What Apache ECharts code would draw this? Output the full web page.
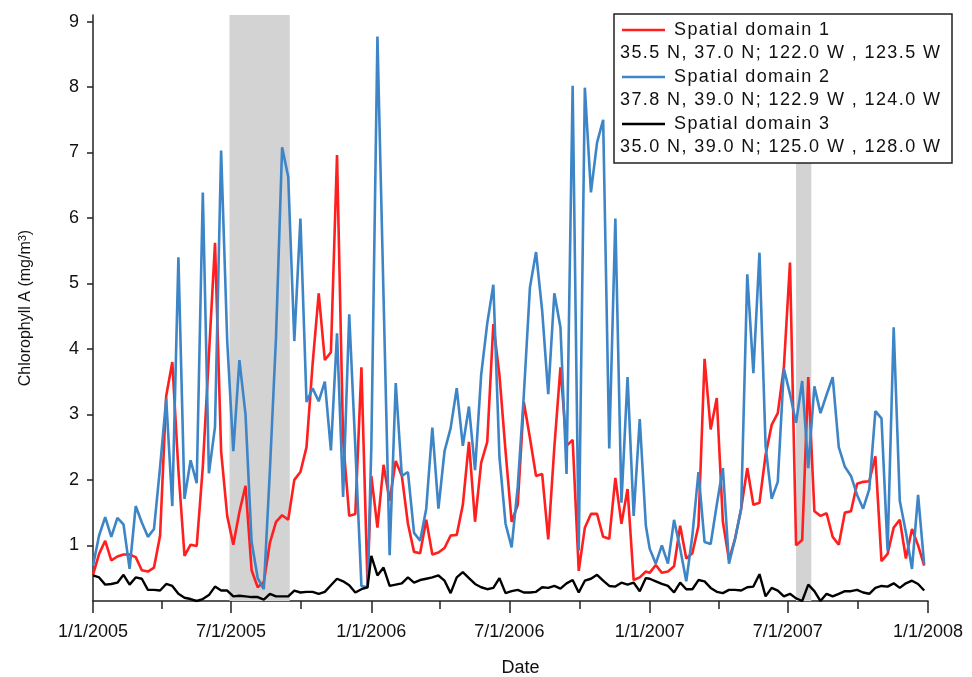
<!DOCTYPE html>
<html><head><meta charset="utf-8">
<script src="https://cdn.jsdelivr.net/npm/echarts@6/dist/echarts.min.js"></script>
<style>html,body{margin:0;padding:0;background:#fff;overflow:hidden}#c{width:972px;height:677px}</style>
</head><body><div id="c"></div>
<script>
// 8-day composite periods, 46 per year
const years = [2005, 2006, 2007];

// Spatial domain 1 (red)
const red2005 = [0.55,0.87,1.07,0.77,0.83,0.86,0.86,0.82,0.62,0.60, 0.66,1.15,3.28,3.80,2.15,0.84,1.01,0.99,2.2,3.9, 5.62,2.44,1.45,1.01,1.51,1.91,0.62,0.36,0.44,1.04, 1.36,1.46,1.39,2.0,2.12,2.5,3.77,4.85,3.83,3.95, 6.96,2.6,1.45,1.48,3.72,0.40];
const red2006 = [2.06,1.27,2.23,1.68,2.29,2.06,1.33,0.90,0.88,1.39, 0.86,0.89,0.96,1.15,1.16,1.62,2.58,1.36,2.26,2.58, 4.38,3.60,2.44,1.36,1.62,3.19,2.64,2.06,2.09,1.09, 2.5,3.72,2.52,2.61,0.61,1.27,1.48,1.48,1.13,1.10, 2.03,1.33,1.86,0.47,0.51,0.60];
const red2007 = [0.58,0.70,0.58,0.60,0.68,1.30,0.80,0.88,1.3,3.85, 2.77,3.25,1.36,0.78,1.10,1.56,2.18,1.62,1.65,2.38, 2.84,3.02,3.72,5.32,1.0,1.08,3.57,1.52,1.45,1.49, 1.13,1.01,1.50,1.52,1.94,1.97,1.98,2.36,0.76,0.87, 1.27,1.39,0.80,1.25,1.0,0.69];

// Spatial domain 2 (blue)
const blue2005 = [0.69,1.15,1.43,1.13,1.42,1.32,0.64,1.6,1.35,1.13, 1.25,2.2,3.24,1.6,5.40,1.71,2.3,1.95,6.39,2.1, 2.81,7.03,4.12,2.44,3.83,3.0,1.05,0.50,0.33,2.15, 4.18,7.08,6.63,4.12,5.99,3.19,3.40,3.20,3.50,2.45, 4.24,1.74,4.53,2.5,0.38,0.36];
const blue2006 = [2.5,8.77,4.8,0.85,3.48,2.06,2.12,1.19,1.07,1.56, 2.80,1.56,2.44,2.79,3.40,2.52,3.12,2.15,3.60,4.39, 4.98,2.35,1.33,0.97,1.9,3.3,4.94,5.48,4.59,3.31, 4.85,4.33,2.09,8.02,0.92,7.99,6.39,7.15,7.5,2.48, 5.99,1.65,3.57,1.45,2.93,1.30];
const blue2007 = [0.95,0.72,1.0,0.72,1.39,0.95,0.45,1.15,2.12,1.05, 1.02,1.62,2.18,0.72,1.10,1.56,5.14,3.63,5.47,2.52, 1.71,1.97,3.70,3.31,2.87,3.51,2.18,3.43,3.02,3.3, 3.57,2.50,2.20,2.06,1.77,1.56,1.86,3.05,2.94,0.92, 4.33,1.68,1.2,0.64,1.77,0.71];

// Spatial domain 3 (black)
const black2005 = [0.54,0.51,0.40,0.41,0.43,0.55,0.40,0.51,0.49,0.32, 0.32,0.31,0.41,0.38,0.26,0.20,0.18,0.15,0.18,0.24, 0.37,0.31,0.31,0.22,0.23,0.22,0.21,0.21,0.17,0.26, 0.22,0.22,0.22,0.31,0.28,0.29,0.29,0.26,0.29,0.39, 0.49,0.45,0.39,0.28,0.33,0.36];
const black2006 = [0.84,0.54,0.66,0.38,0.40,0.42,0.51,0.43,0.47,0.49, 0.51,0.54,0.46,0.27,0.51,0.59,0.50,0.41,0.36,0.33, 0.35,0.50,0.27,0.30,0.32,0.28,0.28,0.29,0.36,0.35, 0.38,0.34,0.42,0.47,0.28,0.46,0.49,0.55,0.46,0.38, 0.37,0.43,0.40,0.43,0.30,0.50];
const black2007 = [0.49,0.45,0.41,0.38,0.28,0.43,0.33,0.33,0.47,0.45, 0.35,0.29,0.27,0.32,0.32,0.31,0.36,0.37,0.56,0.22, 0.35,0.31,0.22,0.26,0.19,0.15,0.40,0.30,0.15,0.26, 0.22,0.26,0.30,0.30,0.32,0.28,0.26,0.35,0.38,0.37, 0.42,0.35,0.42,0.46,0.41,0.31];

const seriesNames = ['Spatial domain 1', 'Spatial domain 2', 'Spatial domain 3'];
const seriesRegions = ['35.5 N, 37.0 N; 122.0 W , 123.5 W', '37.8 N, 39.0 N; 122.9 W , 124.0 W', '35.0 N, 39.0 N; 125.0 W , 128.0 W'];
const seriesColors = ['#ff1f1f', '#3d85c6', '#000000'];

// x tick labels (major) and minor tick dates
const majorTicks = ['2005-01-01','2005-07-01','2006-01-01','2006-07-01','2007-01-01','2007-07-01','2008-01-01'];
const minorTicks = ['2005-04-01','2005-10-01','2006-04-01','2006-10-01','2007-04-01','2007-10-01'];
const yTicks = [1,2,3,4,5,6,7,8,9];
// shaded periods
const shaded = [['2005-06-29','2005-09-16'], ['2007-07-12','2007-08-01']];

function ts(s){ const p = s.split('-').map(Number); return Date.UTC(p[0], p[1]-1, p[2]); }
function build(arrs){
  const out = [];
  years.forEach((y, i) => {
    arrs[i].forEach((v, k) => { out.push([Date.UTC(y, 0, 1 + 8 * k), v]); });
  });
  return out;
}
const redData = build([red2005, red2006, red2007]);
const blueData = build([blue2005, blue2006, blue2007]);
const blackData = build([black2005, black2006, black2007]);

function fmtDate(v){ const d = new Date(v); return (d.getUTCMonth()+1) + '/' + d.getUTCDate() + '/' + d.getUTCFullYear(); }

// letter spacing for the legend text (canvas letterSpacing), as in the reference
const spaced = new Set(seriesNames.concat(seriesRegions));
(function(){
  const proto = CanvasRenderingContext2D.prototype;
  const orig = proto.fillText;
  proto.fillText = function(t, x, y, w){
    if (spaced.has(String(t)) && 'letterSpacing' in this) {
      const prev = this.letterSpacing;
      this.letterSpacing = '1.4px';
      const r = (w === undefined) ? orig.call(this, t, x, y) : orig.call(this, t, x, y, w);
      this.letterSpacing = prev;
      return r;
    }
    return orig.apply(this, arguments);
  };
})();

const FONT = "'Liberation Sans', Arial, sans-serif";
const xMin = ts('2005-01-01'), xMax = ts('2008-01-01');

const chart = echarts.init(document.getElementById('c'), null, {renderer: 'canvas'});

const legendGraphics = [{
  type: 'rect', shape: {x: 614, y: 14, width: 338, height: 149},
  style: {fill: '#ffffff', stroke: '#222', lineWidth: 1.5}, z: 100
}];
seriesNames.forEach((n, i) => {
  const yy = 30 + i * 47;
  legendGraphics.push({type: 'line', shape: {x1: 622, y1: yy, x2: 665, y2: yy}, style: {stroke: seriesColors[i], lineWidth: 2.5}, z: 101});
  legendGraphics.push({type: 'text', x: 674, y: yy, style: {text: n, font: '18px ' + FONT, fill: '#111', textVerticalAlign: 'middle'}, z: 101});
  legendGraphics.push({type: 'text', x: 620, y: yy + 23.5, style: {text: seriesRegions[i], font: '18px ' + FONT, fill: '#111', textVerticalAlign: 'middle'}, z: 101});
});

const axisCommon = {
  type: 'value', min: xMin, max: xMax, gridIndex: 0, position: 'bottom',
  splitLine: {show: false}
};

chart.setOption({
  animation: false,
  backgroundColor: '#ffffff',
  grid: {left: 93, right: 44, top: 15, bottom: 76, containLabel: false, outerBoundsMode: 'none'},
  xAxis: [
    Object.assign({}, axisCommon, {
      name: 'Date', nameLocation: 'middle', nameGap: 58,
      nameTextStyle: {fontFamily: FONT, fontSize: 18, color: '#111', padding: [0, 0, 0, 20]},
      axisLine: {show: true, lineStyle: {color: '#222', width: 1.5}},
      axisTick: {show: true, length: 12, inside: false, customValues: majorTicks.map(ts), lineStyle: {color: '#222', width: 1.5}},
      axisLabel: {show: true, margin: 22, customValues: majorTicks.map(ts), formatter: fmtDate, fontFamily: FONT, fontSize: 18, color: '#111', hideOverlap: false}
    }),
    Object.assign({}, axisCommon, {
      axisLine: {show: false},
      axisTick: {show: true, length: 8, customValues: minorTicks.map(ts), lineStyle: {color: '#222', width: 1.5}},
      axisLabel: {show: false}
    })
  ],
  yAxis: {
    type: 'value', min: 0.15, max: 9.1,
    name: 'Chlorophyll A (mg/m{sup|3})', nameLocation: 'middle', nameGap: 58, nameRotate: 90,
    nameTextStyle: {fontFamily: FONT, fontSize: 16, color: '#111', rich: {sup: {fontFamily: FONT, fontSize: 11, verticalAlign: 'top', padding: [0,0,7,0]}}},
    splitLine: {show: false},
    axisLine: {show: true, lineStyle: {color: '#222', width: 1.5}},
    axisTick: {show: true, length: 6, customValues: yTicks, lineStyle: {color: '#222', width: 1.5}},
    axisLabel: {show: true, margin: 14, customValues: yTicks, fontFamily: FONT, fontSize: 18, color: '#111'}
  },
  graphic: legendGraphics,
  series: [
    {
      type: 'line', name: 'shade', data: [], silent: true, z: 1,
      markArea: {silent: true, itemStyle: {color: '#d3d3d3'}, data: shaded.map(s => [{xAxis: ts(s[0])}, {xAxis: ts(s[1])}])}
    },
    {type: 'line', name: seriesNames[0], data: redData, showSymbol: false, lineStyle: {color: seriesColors[0], width: 2.6}, itemStyle: {color: seriesColors[0]}, z: 3},
    {type: 'line', name: seriesNames[1], data: blueData, showSymbol: false, lineStyle: {color: seriesColors[1], width: 2.6}, itemStyle: {color: seriesColors[1]}, z: 4},
    {type: 'line', name: seriesNames[2], data: blackData, showSymbol: false, lineStyle: {color: seriesColors[2], width: 2.4}, itemStyle: {color: seriesColors[2]}, z: 5}
  ]
});
</script>
</body></html>
